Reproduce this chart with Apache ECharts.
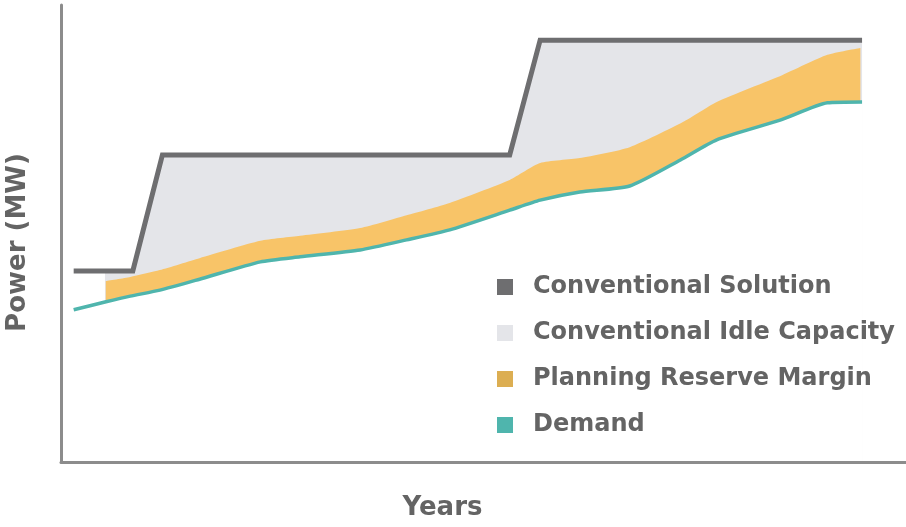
<!DOCTYPE html>
<html>
<head>
<meta charset="utf-8">
<script src="https://cdn.jsdelivr.net/npm/echarts@6/dist/echarts.min.js"></script>
<style>html,body{margin:0;padding:0;background:#fff}#c{width:906px;height:527px}</style>
</head>
<body>
<div id="c"></div>
<script>
// Values (x: years 0-100 scale, y: power 0-100 scale)
const conventionalX = [1.5, 8.5, 12.0, 53.1, 56.7, 94.8];
const conventionalY = [41.8, 41.8, 67.2, 67.2, 92.3, 92.3];

const idleX = [5.2, 8.5, 12.0, 53.1, 56.7, 94.8];
const idleY = [41.8, 41.8, 67.2, 67.2, 92.3, 92.3];

const demandX = [1.5, 5.2, 8.2, 11.7, 16.4, 23.6, 28.3, 35.4, 40.9, 46.0, 53.1, 56.7, 61.4, 67.3, 73.3, 77.6, 85.1, 90.7, 94.8];
const demandY = [33.3, 35.0, 36.3, 37.6, 40.0, 43.8, 44.9, 46.4, 48.6, 50.8, 55.1, 57.3, 59.1, 60.4, 66.1, 70.5, 74.8, 78.6, 78.8];

const marginX = [5.3, 8.2, 11.7, 16.4, 23.6, 28.3, 35.4, 40.9, 46.0, 53.1, 56.7, 61.4, 67.3, 73.6, 77.6, 85.4, 90.7, 94.6];
const marginTopY = [39.6, 40.5, 42.0, 44.6, 48.4, 49.5, 51.2, 54.0, 56.7, 61.7, 65.4, 66.5, 68.9, 74.4, 78.8, 84.7, 89.1, 90.6];

const legendNames = ['Conventional Solution', 'Conventional Idle Capacity', 'Planning Reserve Margin', 'Demand'];
const axisNames = { x: 'Years', y: 'Power (MW)' };

const zip = (xs, ys) => xs.map((x, i) => [x, ys[i]]);

const colors = {
  conv: '#6e6e70',
  idle: '#e4e5e9',
  margin: '#f8c468',
  marginLegend: '#dcae52',
  demand: '#4fb5ad',
  axis: '#8c8c8c',
  text: '#646464'
};

const chart = echarts.init(document.getElementById('c'), null, { renderer: 'canvas' });
chart.setOption({
  animation: false,
  backgroundColor: '#ffffff',
  grid: { left: 61, right: 0, top: 5, bottom: 65, containLabel: false, outerBoundsMode: 'none' },
  xAxis: {
    type: 'value', min: 0, max: 100, z: 10,
    name: axisNames.x, nameLocation: 'middle', nameGap: 33,
    nameTextStyle: { fontFamily: 'DejaVu Sans', fontWeight: 'bold', fontSize: 26, color: colors.text, padding: [0, 82, 0, 0] },
    axisLine: { show: true, lineStyle: { color: colors.axis, width: 3 } },
    axisTick: { show: false }, axisLabel: { show: false }, splitLine: { show: false }
  },
  yAxis: {
    type: 'value', min: 0, max: 100, z: 10,
    name: axisNames.y, nameLocation: 'middle', nameGap: 30,
    nameTextStyle: { fontFamily: 'DejaVu Sans', fontWeight: 'bold', fontSize: 26, color: colors.text, padding: [0, 18, 0, 0] },
    axisLine: { show: true, lineStyle: { color: colors.axis, width: 3 } },
    axisTick: { show: false }, axisLabel: { show: false }, splitLine: { show: false }
  },
  legend: {
    orient: 'vertical', left: 492, top: 270,
    icon: 'rect', itemWidth: 16, itemHeight: 16, itemGap: 22,
    textStyle: { fontFamily: 'DejaVu Sans', fontWeight: 'bold', fontSize: 24, color: colors.text, padding: [0, 0, 0, 15] },
    data: [
      { name: legendNames[0], itemStyle: { color: colors.conv } },
      { name: legendNames[1], itemStyle: { color: colors.idle } },
      { name: legendNames[2], itemStyle: { color: colors.marginLegend } },
      { name: legendNames[3], itemStyle: { color: colors.demand } }
    ]
  },
  series: [
    {
      name: legendNames[1], type: 'line', data: zip(idleX, idleY),
      symbol: 'none', lineStyle: { width: 0 }, itemStyle: { color: colors.idle },
      areaStyle: { color: colors.idle, opacity: 1 }
    },
    {
      name: legendNames[2], type: 'line', data: zip(marginX, marginTopY),
      symbol: 'none', smooth: 0.2, lineStyle: { width: 0 }, itemStyle: { color: colors.marginLegend },
      areaStyle: { color: colors.margin, opacity: 1 }
    },
    {
      name: legendNames[3], type: 'line', data: zip(demandX, demandY),
      symbol: 'none', smooth: 0.2, lineStyle: { width: 3.5, color: colors.demand }, itemStyle: { color: colors.demand },
      areaStyle: { color: '#ffffff', opacity: 1 }
    },
    {
      name: legendNames[0], type: 'line', data: zip(conventionalX, conventionalY),
      symbol: 'none', lineStyle: { width: 5, color: colors.conv, join: 'miter' }, itemStyle: { color: colors.conv }
    }
  ]
});
</script>
</body>
</html>
